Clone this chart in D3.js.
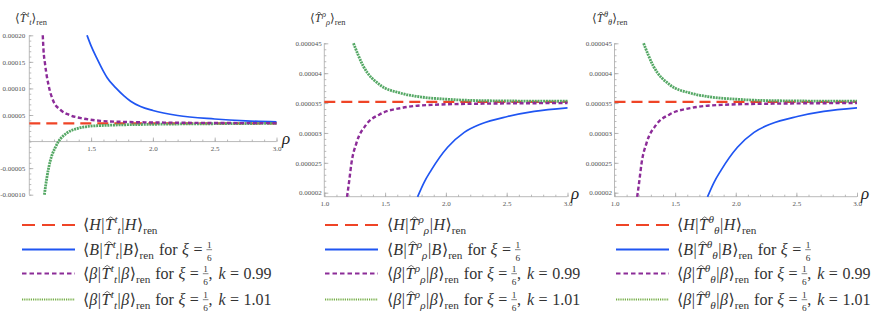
<!DOCTYPE html>
<html>
<head>
<meta charset="utf-8">
<script src="https://cdnjs.cloudflare.com/ajax/libs/d3/7.8.5/d3.min.js"></script>
<style>
    body { margin: 0; background: #fff; }
    svg { font-family: "Liberation Serif", "DejaVu Serif", serif; }
    .axis line { stroke: #a8a8a8; stroke-width: 0.8; }
    .axis text { fill: #555; font-size: 7px; font-family: "Liberation Serif", serif; }
    .math text { fill: #333; }
</style>
</head>
<body>
<script>
// tick values and labels
var rhoTicks = [1.0, 1.5, 2.0, 2.5, 3.0];
var rhoRange = [1.0, 3.0];
var ttTicks = [-0.0001, -0.00005, 0.00005, 0.0001, 0.00015, 0.0002];
var ttTickLabels = ["-0.00010", "-0.00005", "0.00005", "0.00010", "0.00015", "0.00020"];
var rrTicks = [0.00002, 0.000025, 0.00003, 0.000035, 0.00004, 0.000045];
var rrTickLabels = ["0.00002", "0.000025", "0.00003", "0.000035", "0.00004", "0.000045"];

// Hartle-Hawking (thermal) values, constant in rho
var ttHartle = 0.0000342;
var rrHartle = 0.0000352;
var ththHartle = 0.0000352;

// <T^t_t> : [rho, value]
var ttBoulware = [[1.467, 0.0002], [1.50, 0.00018], [1.55, 0.000155], [1.60, 0.000132], [1.63, 0.00012],
    [1.70, 0.000101], [1.766, 0.000086], [1.82, 0.000076], [1.9, 0.000066], [2.0, 0.0000585], [2.2, 0.000049],
    [2.5, 0.0000425], [2.75, 0.000039], [3.0, 0.000037]];
var ttBeta099 = [[1.109, 0.0002], [1.114, 0.000176], [1.128, 0.000145], [1.155, 0.000107], [1.195, 0.000076],
    [1.25, 0.00006], [1.33, 0.0000496], [1.44, 0.0000432], [1.576, 0.000039], [1.8, 0.0000368],
    [2.0, 0.000036], [2.5, 0.000035], [3.0, 0.0000346]];
var ttBeta101 = [[1.122, -0.0001], [1.142, -0.000068], [1.169, -0.0000368], [1.209, -0.0000118], [1.236, 0],
    [1.305, 0.0000164], [1.386, 0.0000244], [1.494, 0.000029], [1.657, 0.0000308], [2.0, 0.0000325],
    [2.5, 0.0000336], [3.0, 0.0000342]];

// <T^rho_rho>
var rrBoulware = [[1.767, 0.0000193], [1.82, 0.0000217], [1.877, 0.0000237], [2.014, 0.0000276], [2.151, 0.0000301],
    [2.288, 0.0000315], [2.507, 0.00003275], [2.726, 0.0000336], [3.0, 0.0000342]];
var rrBeta099 = [[1.187, 0.0000193], [1.205, 0.000022], [1.223, 0.0000249], [1.264, 0.0000283], [1.345, 0.0000314],
    [1.454, 0.0000331], [1.64, 0.0000342], [1.88, 0.0000347], [2.3, 0.0000349], [3.0, 0.000035]];
var rrBeta101 = [[1.24, 0.000045], [1.32, 0.0000412], [1.46, 0.000038], [1.62, 0.0000367], [1.8, 0.000036],
    [2.0, 0.00003565], [2.3, 0.0000354], [3.0, 0.0000353]];

// <T^theta_theta>
var ththBoulware = [[1.767, 0.0000193], [1.82, 0.0000217], [1.877, 0.0000237], [2.014, 0.0000276], [2.151, 0.0000301],
    [2.288, 0.0000315], [2.507, 0.00003275], [2.726, 0.0000336], [3.0, 0.0000342]];
var ththBeta099 = [[1.187, 0.0000193], [1.205, 0.000022], [1.223, 0.0000249], [1.264, 0.0000283], [1.345, 0.0000314],
    [1.454, 0.0000331], [1.64, 0.0000342], [1.88, 0.0000347], [2.3, 0.0000349], [3.0, 0.000035]];
var ththBeta101 = [[1.24, 0.000045], [1.32, 0.0000412], [1.46, 0.000038], [1.62, 0.0000367], [1.8, 0.000036],
    [2.0, 0.00003565], [2.3, 0.0000354], [3.0, 0.0000353]];

// legend entries
var legendStates = ["H", "B", "β", "β"];
var legendK = [null, null, "0.99", "1.01"];

var colors = { red: "#ef4426", blue: "#1f55f2", purple: "#8c2c98", green: "#55a865", greenKey: "#74ad45" };

var svg = d3.select("body").append("svg")
    .attr("width", 872)
    .attr("height", 335);

svg.append("rect").attr("width", 872).attr("height", 335).attr("fill", "#fff");

var panels = [
    { left: 29.3, right: 276.5, top: 35.3, bottom: 194.7, yDomain: [-0.0001, 0.0002], axisAtZero: true,
      yTicks: ttTicks, yLabels: ttTickLabels, yMinor: d3.range(-10, 21).map(function (i) { return i * 1e-5; }),
      xTicks: rhoTicks.slice(1), hartle: ttHartle, boulware: ttBoulware, b099: ttBeta099, b101: ttBeta101,
      index: "t", titleX: 15, rhoX: 282, rhoY: 144, keyX: 22, textX: 83 },
    { left: 324.3, right: 567.5, top: 43.3, bottom: 196.7, yDomain: [0.00001933, 0.000045], axisAtZero: false,
      yTicks: rrTicks, yLabels: rrTickLabels, yMinor: d3.range(20, 46).map(function (i) { return i * 1e-6; }),
      xTicks: rhoTicks, hartle: rrHartle, boulware: rrBoulware, b099: rrBeta099, b101: rrBeta101,
      index: "ρ", titleX: 310, rhoX: 571, rhoY: 199, keyX: 325, textX: 387 },
    { left: 614.5, right: 857, top: 43.3, bottom: 196.7, yDomain: [0.00001933, 0.000045], axisAtZero: false,
      yTicks: rrTicks, yLabels: rrTickLabels, yMinor: d3.range(20, 46).map(function (i) { return i * 1e-6; }),
      xTicks: rhoTicks, hartle: ththHartle, boulware: ththBoulware, b099: ththBeta099, b101: ththBeta101,
      index: "θ", titleX: 592, rhoX: 861, rhoY: 199, keyX: 616, textX: 677 }
];

// writes a little formula piece by piece, measuring as it goes
function mathText(g, x, y, toks, fs) {
    var cx = x;
    toks.forEach(function (k) {
        cx += (k.pre || 0);
        if (k.frac) {
            var s = fs * 0.58;
            var n = g.append("text").attr("x", cx + 0.5).attr("y", y - fs * 0.42).attr("font-size", s).text(k.frac[0]);
            var d = g.append("text").attr("x", cx + 0.5).attr("y", y + fs * 0.42).attr("font-size", s).text(k.frac[1]);
            var w = Math.max(n.node().getComputedTextLength(), d.node().getComputedTextLength()) + 1;
            g.append("line")
                .attr("x1", cx).attr("x2", cx + w)
                .attr("y1", y - fs * 0.3).attr("y2", y - fs * 0.3)
                .attr("stroke", "#333").attr("stroke-width", 0.6);
            cx += w + (k.sp || 0);
            return;
        }
        var size = (k.sup || k.sub) ? fs * 0.7 : fs;
        var dy = k.sup ? -fs * 0.42 : (k.sub ? fs * 0.28 : 0);
        var el = g.append("text")
            .attr("x", cx)
            .attr("y", y + dy)
            .attr("font-size", size)
            .attr("font-style", k.it ? "italic" : null)
            .text(k.t);
        var tw = el.node().getComputedTextLength();
        if (k.hat) {
            // little circumflex drawn as a path
            var hx = cx + tw / 2 + fs * 0.08, hy = y - fs * 0.82;
            g.append("path")
                .attr("d", "M" + (hx - fs * 0.17) + "," + (hy + fs * 0.12) + "L" + hx + "," + hy +
                    "L" + (hx + fs * 0.17) + "," + (hy + fs * 0.12))
                .attr("fill", "none").attr("stroke", "#333").attr("stroke-width", 0.7);
        }
        cx += tw + (k.sp || 0);
    });
}

function tensorToks(idx) {
    return [{ t: "T", it: true, hat: true, sp: 0.5 }, { t: idx, it: true, sup: true },
        { t: idx, it: true, sub: true }];
}

panels.forEach(function (p) {
    var x = d3.scaleLinear().domain(rhoRange).range([p.left, p.right]);
    var y = d3.scaleLinear().domain(p.yDomain).range([p.bottom, p.top]);
    var g = svg.append("g");

    var xAxisY = p.axisAtZero ? y(0) : p.bottom;

    // minor ticks first, then major
    g.append("g").attr("class", "axis")
        .attr("transform", "translate(0," + xAxisY + ")")
        .call(d3.axisBottom(x).tickValues(d3.range(10, 31).map(function (i) { return i / 10; }))
            .tickSize(-2).tickFormat(""));
    g.append("g").attr("class", "axis")
        .attr("transform", "translate(0," + xAxisY + ")")
        .call(d3.axisBottom(x).tickValues(p.xTicks).tickSize(-4).tickPadding(4)
            .tickFormat(d3.format(".1f")));

    g.append("g").attr("class", "axis")
        .attr("transform", "translate(" + p.left + ",0)")
        .call(d3.axisLeft(y).tickValues(p.yMinor).tickSize(-2).tickFormat(""));
    g.append("g").attr("class", "axis")
        .attr("transform", "translate(" + p.left + ",0)")
        .call(d3.axisLeft(y).tickValues(p.yTicks).tickSize(-4).tickPadding(p.axisAtZero ? 4 : 2.5)
            .tickFormat(function (d, i) { return p.yLabels[i]; }));

    g.selectAll(".axis").attr("font-family", null).attr("font-size", null);
    g.selectAll(".axis path.domain").remove();
    // plain axis lines
    g.append("line").attr("x1", p.left).attr("x2", p.right).attr("y1", xAxisY).attr("y2", xAxisY)
        .attr("stroke", "#a8a8a8").attr("stroke-width", 0.8);
    g.append("line").attr("x1", p.left).attr("x2", p.left).attr("y1", p.top).attr("y2", p.bottom)
        .attr("stroke", "#a8a8a8").attr("stroke-width", 0.8);

    var line = d3.line()
        .x(function (d) { return x(d[0]); })
        .y(function (d) { return y(d[1]); })
        .curve(d3.curveMonotoneX);

    g.append("path").datum(rhoRange.map(function (r) { return [r, p.hartle]; }))
        .attr("d", line).attr("fill", "none")
        .attr("stroke", colors.red).attr("stroke-width", 2.2).attr("stroke-dasharray", "11,6");
    g.append("path").datum(p.boulware)
        .attr("d", line).attr("fill", "none")
        .attr("stroke", colors.blue).attr("stroke-width", 1.7);
    g.append("path").datum(p.b101)
        .attr("d", line).attr("fill", "none")
        .attr("stroke", colors.green).attr("stroke-width", 2.8).attr("stroke-dasharray", "2,0.8");
    g.append("path").datum(p.b099)
        .attr("d", line).attr("fill", "none")
        .attr("stroke", colors.purple).attr("stroke-width", 2.4).attr("stroke-dasharray", "4,2.5");

    // axis name
    g.append("text").attr("x", p.rhoX).attr("y", p.rhoY)
        .attr("font-size", 17).attr("font-style", "italic").attr("fill", "#222").text("ρ");

    // title
    var tg = g.append("g").attr("class", "math");
    mathText(tg, p.titleX, 22, [{ t: "⟨" }].concat(tensorToks(p.index))
        .concat([{ t: "⟩" }, { t: "ren", sub: true }]), 12);

    // legend
    var keyStyles = [
        { c: colors.red, w: 2, dash: "13,7" },
        { c: colors.blue, w: 2.2, dash: null },
        { c: colors.purple, w: 1.8, dash: "4.5,3" },
        { c: colors.greenKey, w: 1.8, dash: "1.2,1" }
    ];
    var rowY = [225, 249.5, 273.5, 299.5];
    legendStates.forEach(function (s, i) {
        g.append("line")
            .attr("x1", p.keyX).attr("x2", p.keyX + 53)
            .attr("y1", rowY[i]).attr("y2", rowY[i])
            .attr("stroke", keyStyles[i].c).attr("stroke-width", keyStyles[i].w)
            .attr("stroke-dasharray", keyStyles[i].dash);
        var toks = [{ t: "⟨" }, { t: s, it: true, sp: 0.5 }, { t: "|", sp: 0.5 }].concat(tensorToks(p.index))
            .concat([{ t: "|", pre: 0.5, sp: 0.5 }, { t: s, it: true, sp: 0.5 }, { t: "⟩" }, { t: "ren", sub: true }]);
        if (i > 0) {
            toks = toks.concat([{ t: "for", pre: 5, sp: 4.5 }, { t: "ξ", it: true, sp: 4.5 }, { t: "=", sp: 4 },
                { frac: ["1", "6"] }]);
        }
        if (legendK[i]) {
            toks = toks.concat([{ t: ",", sp: 6 }, { t: "k", it: true, sp: 4.5 }, { t: "=", sp: 4.5 },
                { t: legendK[i] }]);
        }
        mathText(g.append("g").attr("class", "math"), p.textX, rowY[i] + 5, toks, 16);
    });
});
</script>
</body>
</html>
